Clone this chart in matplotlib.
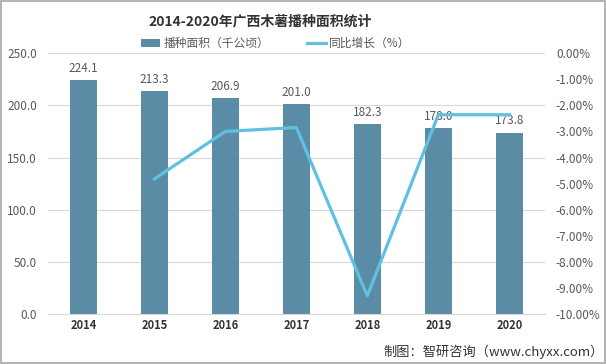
import matplotlib
matplotlib.use("Agg")
import matplotlib.pyplot as plt
from matplotlib.ticker import FuncFormatter
from matplotlib.patches import Patch
from matplotlib.lines import Line2D

plt.rcParams['font.family'] = ['Noto Sans CJK SC', 'DejaVu Sans']

years = ['2014', '2015', '2016', '2017', '2018', '2019', '2020']
area = [224.1, 213.3, 206.9, 201.0, 182.3, 178.0, 173.8]
growth_years = ['2015', '2016', '2017', '2018', '2019', '2020']
growth = [-4.82, -3.00, -2.85, -9.30, -2.36, -2.36]

bar_color = '#5b8ca5'
line_color = '#5fc0e2'
text_gray = '#595959'

fig = plt.figure(figsize=(6.06, 3.64), dpi=100)
ax = fig.add_axes([0.079, 0.137, 0.820, 0.717])

# bars + value labels
x = list(range(len(years)))
ax.bar(x, area, width=0.38, color=bar_color, zorder=2)
for xi, v in zip(x, area):
    ax.text(xi, v + 5, f"{v:.1f}", ha='center', va='bottom', fontsize=8.5, color=text_gray, zorder=4)

ax.set_ylim(0, 250)
ax.set_yticks([0, 50, 100, 150, 200, 250])
ax.yaxis.set_major_formatter(FuncFormatter(lambda v, p: f"{v:.1f}"))
ax.set_xlim(-0.5, len(years) - 0.5)
ax.set_xticks(x)
ax.set_xticklabels(years, fontweight='bold', fontsize=8, color='#333333')
ax.grid(axis='y', color='#d9d9d9', linewidth=0.8, zorder=0)
for s in ['top', 'right', 'left']:
    ax.spines[s].set_visible(False)
ax.spines['bottom'].set_color('#d9d9d9')
ax.tick_params(axis='both', length=0)
ax.tick_params(axis='y', labelsize=8.5, labelcolor=text_gray, pad=8)

# growth line on the right axis
ax2 = ax.twinx()
gx = [years.index(y) for y in growth_years]
ax2.plot(gx, growth, color=line_color, linewidth=2.3, zorder=3)
ax2.set_ylim(-10, 0)
ax2.set_yticks([-10, -9, -8, -7, -6, -5, -4, -3, -2, -1, 0])
ax2.yaxis.set_major_formatter(FuncFormatter(lambda v, p: f"{v:.2f}%"))
ax2.tick_params(axis='y', length=0, labelsize=8.5, labelcolor=text_gray, pad=8)
for s in ['top', 'right', 'left', 'bottom']:
    ax2.spines[s].set_visible(False)

fig.text(0.43, 0.94, '2014-2020年广西木薯播种面积统计', ha='center', va='center',
         fontsize=10, fontweight='bold', color='#333333')

handles = [Patch(facecolor=bar_color, label='播种面积（千公顷）'),
           Line2D([0], [0], color=line_color, linewidth=2.3, label='同比增长（%）')]
fig.legend(handles=handles, loc='center', bbox_to_anchor=(0.455, 0.88), ncol=2,
           frameon=False, fontsize=8.5, handlelength=1.6, handleheight=0.6,
           handletextpad=0.3, columnspacing=3.2, labelcolor=text_gray)

fig.text(0.997, 0.033, '制图：智研咨询（www.chyxx.com）', ha='right', va='center',
         fontsize=9.5, color='#333333')

border = plt.Rectangle((0.001, 0.002), 0.997, 0.995, transform=fig.transFigure,
                       fill=False, edgecolor='#a6a6a6', linewidth=1.2)
fig.patches.append(border)

fig.savefig('out.png', dpi=100)
